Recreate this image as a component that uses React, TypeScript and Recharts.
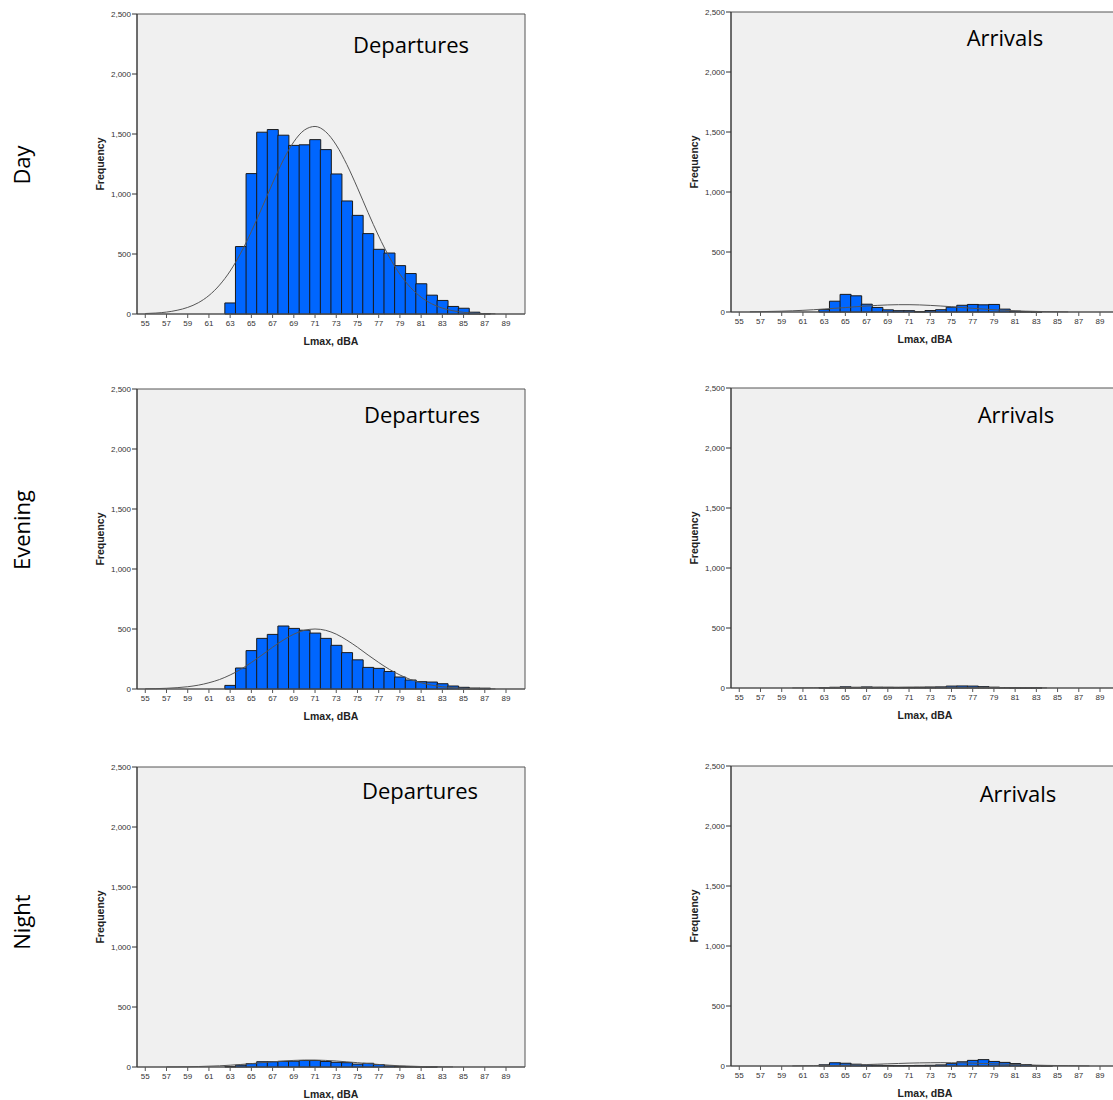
import React from 'react';
import { ComposedChart, Bar, Line, XAxis, YAxis, CartesianGrid, ReferenceArea } from 'recharts';

// bin centres, Lmax dBA
const bins = [55, 56, 57, 58, 59, 60, 61, 62, 63, 64, 65, 66, 67, 68, 69, 70, 71, 72, 73, 74, 75, 76, 77, 78, 79, 80, 81, 82, 83, 84, 85, 86, 87, 88, 89];
const xTicks = [55, 57, 59, 61, 63, 65, 67, 69, 71, 73, 75, 77, 79, 81, 83, 85, 87, 89];
const yTicks = [0, 500, 1000, 1500, 2000, 2500];

const dayDepFreq = [0, 0, 0, 0, 0, 0, 0, 0, 92, 562, 1170, 1515, 1537, 1490, 1405, 1410, 1453, 1370, 1167, 942, 822, 670, 539, 508, 403, 337, 252, 157, 113, 63, 48, 15, 4, 0, 0];
const dayDepFit = [4, 8, 16, 31, 55, 94, 154, 241, 358, 508, 687, 886, 1091, 1281, 1435, 1533, 1563, 1519, 1408, 1245, 1051, 845, 649, 475, 332, 221, 140, 85, 49, 27, 14, 7, 3, 2, null];

const dayArrFreq = [0, 0, 0, 0, 0, 0, 0, 0, 20, 90, 147, 135, 65, 38, 18, 11, 11, 2, 12, 19, 40, 56, 63, 60, 63, 24, 7, 3, 1, 0, 0, 0, 0, 0, 0];
const dayArrFit = [null, 2, 3, 5, 7, 10, 14, 19, 25, 31, 37, 44, 50, 55, 59, 61, 61, 59, 55, 50, 44, 37, 31, 25, 19, 14, 10, 7, 5, 3, 2, 1, null, null, null];

const eveDepFreq = [0, 0, 0, 0, 0, 0, 0, 0, 30, 175, 320, 422, 455, 525, 505, 490, 466, 422, 364, 303, 243, 180, 172, 146, 100, 75, 61, 58, 44, 25, 14, 8, 7, 0, 0];
const eveDepFit = [2, 3, 6, 11, 19, 32, 52, 79, 117, 164, 221, 283, 348, 407, 457, 489, 500, 489, 457, 407, 348, 283, 221, 164, 117, 79, 52, 32, 19, 11, 6, 3, 2, 1, null];

const eveArrFreq = [0, 0, 0, 0, 0, 0, 0, 0, 3, 6, 10, 6, 9, 6, 5, 4, 4, 5, 7, 9, 16, 17, 16, 11, 7, 4, 2, 1, 1, 0, 0, 0, 0, 0, 0];
const eveArrFit = [null, null, null, null, null, 1, 1, 2, 2, 3, 4, 4, 5, 6, 7, 7, 8, 8, 8, 7, 7, 6, 5, 4, 4, 3, 2, 2, 1, 1, null, null, null, null, null];

const nightDepFreq = [0, 0, 0, 0, 0, 0, 0, 0, 3, 15, 28, 44, 44, 47, 48, 54, 54, 46, 39, 36, 24, 31, 20, 9, 5, 3, 2, 1, 0, 0, 0, 0, 0, 0, 0];
const nightDepFit = [null, null, 1, 1, 2, 4, 7, 10, 15, 21, 28, 36, 43, 50, 55, 58, 58, 55, 50, 43, 36, 28, 21, 15, 10, 7, 4, 2, 1, 1, null, null, null, null, null];

const nightArrFreq = [0, 0, 0, 0, 0, 0, 0, 0, 10, 27, 23, 15, 8, 6, 4, 3, 4, 5, 6, 9, 20, 35, 47, 53, 38, 30, 20, 12, 4, 2, 0, 0, 0, 0, 0];
const nightArrFit = [null, null, null, null, null, 1, 2, 3, 4, 5, 7, 10, 12, 15, 18, 21, 24, 26, 27, 28, 27, 26, 24, 21, 18, 15, 12, 10, 7, 5, 4, 3, 2, 1, null];

const X_MIN = 54.22;
const X_MAX = 90.79;
const Y_MAX = 2500;

const sans = '"Open Sans", "Noto Sans", sans-serif';
const arial = '"Liberation Sans", Arial, sans-serif';

const W = 445;
const H = 350;
const M_TOP = 10;
const Y_W = 52;
const PLOT_W = 388;
const PLOT_H = 300;

type HistProps = {
  left: number;
  top: number;
  freq: number[];
  fit: (number | null)[];
};

const Histogram = ({ left, top, freq, fit }: HistProps) => {
  const data = bins.map((x, i) => ({ x, freq: freq[i], fit: fit[i] }));
  const tickStyle = { fontSize: 8, fill: '#333', fontFamily: arial };
  return (
    <>
      <div style={{ position: 'absolute', left, top }}>
        <ComposedChart
          width={W}
          height={H}
          data={data}
          margin={{ top: M_TOP, right: W - Y_W - PLOT_W, bottom: 0, left: 0 }}
          barCategoryGap={0}
          barGap={0}
        >
          <CartesianGrid fill="#f0f0f0" horizontal={false} vertical={false} />
          <XAxis
            dataKey="x"
            type="number"
            domain={[X_MIN, X_MAX]}
            ticks={xTicks}
            interval={0}
            allowDataOverflow
            height={H - M_TOP - PLOT_H}
            tickSize={4}
            tickMargin={2}
            tick={tickStyle}
            stroke="#555"
          />
          <YAxis
            type="number"
            domain={[0, Y_MAX]}
            ticks={yTicks}
            interval={0}
            width={Y_W}
            tickSize={5}
            tickMargin={1}
            tick={tickStyle}
            stroke="#333"
            tickFormatter={(v: number) => v.toLocaleString('en-US')}
          />
          <Bar dataKey="freq" fill="#0066ff" stroke="#1a1a1a" strokeWidth={1} isAnimationActive={false} />
          <Line
            dataKey="fit"
            type="monotone"
            stroke="#555"
            strokeWidth={1}
            dot={false}
            activeDot={false}
            isAnimationActive={false}
          />
          <ReferenceArea x1={X_MIN} x2={X_MAX} y1={0} y2={Y_MAX} fill="none" stroke="#555" strokeWidth={1} />
        </ComposedChart>
      </div>
      <div
        style={{
          position: 'absolute',
          left: left + 15,
          top: top + M_TOP + PLOT_H / 2,
          transform: 'translate(-50%, -50%) rotate(-90deg)',
          fontFamily: arial,
          fontWeight: 'bold',
          fontSize: 10.5,
          whiteSpace: 'nowrap',
          color: '#222',
        }}
      >
        Frequency
      </div>
      <div
        style={{
          position: 'absolute',
          left: left + Y_W + PLOT_W / 2,
          top: top + M_TOP + PLOT_H + 27,
          transform: 'translate(-50%, -50%)',
          fontFamily: arial,
          fontWeight: 'bold',
          fontSize: 10.5,
          whiteSpace: 'nowrap',
          color: '#222',
        }}
      >
        Lmax, dBA
      </div>
    </>
  );
};

const Title = ({ text, cx, baseline }: { text: string; cx: number; baseline: number }) => (
  <div
    style={{
      position: 'absolute',
      left: cx,
      top: baseline - 19.5,
      transform: 'translateX(-50%)',
      fontFamily: sans,
      fontSize: 22,
      lineHeight: '22px',
      whiteSpace: 'nowrap',
      color: '#000',
    }}
  >
    {text}
  </div>
);

const RowLabel = ({ text, cy }: { text: string; cy: number }) => (
  <div
    style={{
      position: 'absolute',
      left: 21,
      top: cy,
      transform: 'translate(-50%, -50%) rotate(-90deg)',
      fontFamily: sans,
      fontSize: 22,
      whiteSpace: 'nowrap',
      color: '#000',
    }}
  >
    {text}
  </div>
);

export default function App() {
  return (
    <div style={{ position: 'fixed', left: 0, top: 0, width: 1113, height: 1100, overflow: 'hidden', background: '#fff' }}>
      <RowLabel text="Day" cy={165} />
      <RowLabel text="Evening" cy={530} />
      <RowLabel text="Night" cy={922} />

      <Histogram left={85} top={4} freq={dayDepFreq} fit={dayDepFit} />
      <Histogram left={679} top={2} freq={dayArrFreq} fit={dayArrFit} />
      <Histogram left={85} top={379} freq={eveDepFreq} fit={eveDepFit} />
      <Histogram left={679} top={378} freq={eveArrFreq} fit={eveArrFit} />
      <Histogram left={85} top={757} freq={nightDepFreq} fit={nightDepFit} />
      <Histogram left={679} top={756} freq={nightArrFreq} fit={nightArrFit} />

      <Title text="Departures" cx={411} baseline={52} />
      <Title text="Arrivals" cx={1005} baseline={45} />
      <Title text="Departures" cx={422} baseline={422} />
      <Title text="Arrivals" cx={1016} baseline={422} />
      <Title text="Departures" cx={420} baseline={798} />
      <Title text="Arrivals" cx={1018} baseline={801} />
    </div>
  );
}
